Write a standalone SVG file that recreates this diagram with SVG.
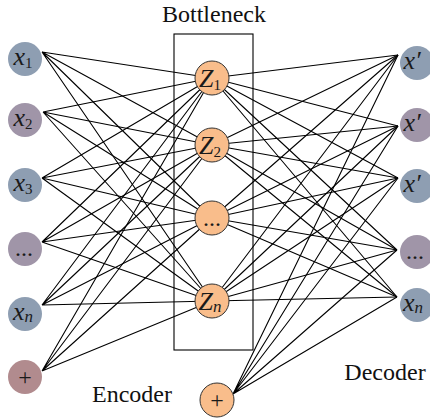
<svg xmlns="http://www.w3.org/2000/svg" width="430" height="419" viewBox="0 0 430 419">
<style>
.c{stroke:#000;stroke-width:1.1;fill:none}
.bg{fill:#8e9eb2}
.mv{fill:#a095a8}
.rs{fill:#b18b8e}
.or{fill:#f9bd8b;stroke:#333;stroke-width:1}
text{font-family:"Liberation Serif","Times New Roman","DejaVu Serif",serif}
.t{font-size:24px;fill:#111;text-anchor:middle}
.lab{font-size:26px;fill:#1a1a1a;text-anchor:middle}
.i{font-style:italic}
.s{font-size:15px;font-style:normal}
.si{font-size:17px;font-style:italic}
.d{font-size:24px}
</style>
<rect width="430" height="419" fill="#fff"/>
<g id="connectors" class="c">
<path d="M42,52L212,78M42,52L212,145M42,52L212,218M42,52L212,301"/>
<path d="M43,112L212,78M43,112L212,145M43,112L212,218M43,112L212,301"/>
<path d="M42,178L212,78M42,178L212,145M42,178L212,218M42,178L212,301"/>
<path d="M42,242L212,78M42,242L212,145M42,242L212,218M42,242L212,301"/>
<path d="M42,305L212,78M42,305L212,145M42,305L212,218M42,305L212,301"/>
<path d="M42,371L212,78M42,371L212,145M42,371L212,218M42,371L212,301"/>
<path d="M212,78L398,55M212,78L398,126M212,78L398,178M212,78L397,250M212,78L397,297"/>
<path d="M212,145L398,55M212,145L398,126M212,145L398,178M212,145L397,250M212,145L397,297"/>
<path d="M212,218L398,55M212,218L398,126M212,218L398,178M212,218L397,250M212,218L397,297"/>
<path d="M212,301L398,55M212,301L398,126M212,301L398,178M212,301L397,250M212,301L397,297"/>
<path d="M233,394L398,55M233,394L398,126M233,394L398,178M233,394L397,250M233,394L397,297"/>
</g>
<rect id="bottleneck-box" x="174" y="34" width="79" height="316" fill="none" stroke="#000" stroke-width="1.1"/>
<text class="t" x="214" y="22">Bottleneck</text>
<text class="t" x="132" y="402">Encoder</text>
<text class="t" x="385" y="380">Decoder</text>
<g id="in1"><circle class="bg" cx="25" cy="59" r="17"/><text class="lab" x="23" y="65"><tspan class="i">x</tspan><tspan class="s" dy="3">1</tspan></text></g>
<g id="in2"><circle class="mv" cx="25" cy="120" r="17"/><text class="lab" x="23" y="126"><tspan class="i">x</tspan><tspan class="s" dy="3">2</tspan></text></g>
<g id="in3"><circle class="bg" cx="25" cy="185" r="17"/><text class="lab" x="23" y="191"><tspan class="i">x</tspan><tspan class="s" dy="3">3</tspan></text></g>
<g id="in4"><circle class="mv" cx="25" cy="249" r="17"/><text class="lab d" x="24" y="256">...</text></g>
<g id="in5"><circle class="bg" cx="25" cy="314" r="17"/><text class="lab" x="23" y="320"><tspan class="i">x</tspan><tspan class="si" dy="2">n</tspan></text></g>
<g id="in-bias"><circle class="rs" cx="25" cy="377" r="17"/><text class="lab d" x="25" y="385">+</text></g>
<g id="z1"><circle class="or" cx="212" cy="78" r="17"/><text class="lab" x="210" y="87"><tspan class="i">Z</tspan><tspan class="s" dy="3">1</tspan></text></g>
<g id="z2"><circle class="or" cx="212" cy="145" r="17"/><text class="lab" x="210" y="154"><tspan class="i">Z</tspan><tspan class="s" dy="3">2</tspan></text></g>
<g id="z3"><circle class="or" cx="212" cy="218" r="17"/><text class="lab d" x="212" y="226">...</text></g>
<g id="zn"><circle class="or" cx="212" cy="301" r="17"/><text class="lab" x="210" y="310"><tspan class="i">Z</tspan><tspan class="si" dy="2">n</tspan></text></g>
<g id="z-bias"><circle class="or" cx="217" cy="400" r="17"/><text class="lab d" x="217" y="408">+</text></g>
<g id="out1"><circle class="bg" cx="417" cy="63" r="17"/><text class="lab i" x="412" y="69">x′</text></g>
<g id="out2"><circle class="mv" cx="417" cy="125" r="17"/><text class="lab i" x="412" y="131">x′</text></g>
<g id="out3"><circle class="bg" cx="417" cy="186" r="17"/><text class="lab i" x="412" y="192">x′</text></g>
<g id="out4"><circle class="mv" cx="417" cy="252" r="17"/><text class="lab d" x="415" y="259">...</text></g>
<g id="out5"><circle class="bg" cx="417" cy="305" r="17"/><text class="lab" x="413" y="311"><tspan class="i">x</tspan><tspan class="si" dy="2">n</tspan></text></g>
</svg>
